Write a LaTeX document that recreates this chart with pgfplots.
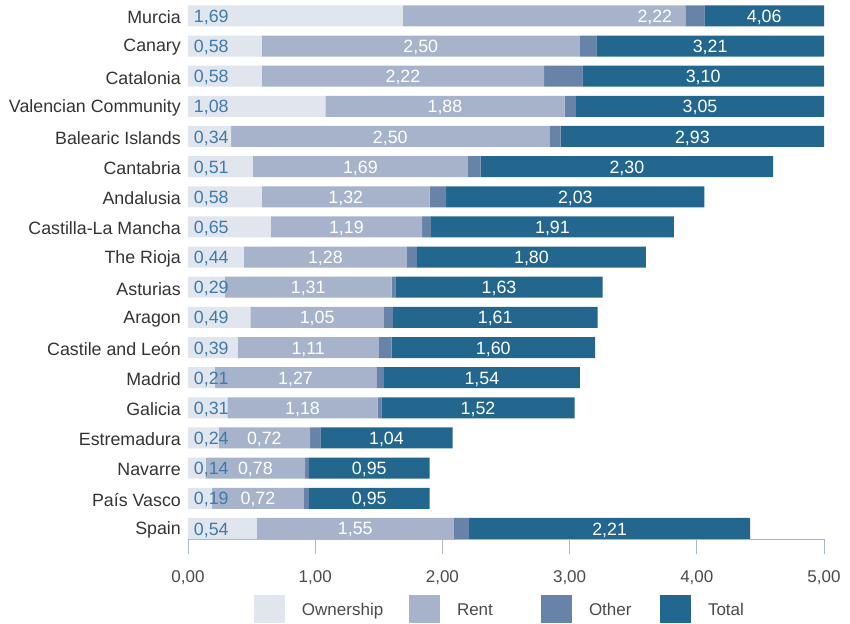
\documentclass[border=0pt]{standalone}
\usepackage{fontspec}
\setmainfont{Liberation Sans}
\usepackage{pgfplots}
\usepackage{pgfplotstable}
\pgfplotsset{compat=1.18}
\definecolor{cOwn}{HTML}{E1E6EE}
\definecolor{cRent}{HTML}{A6B3CB}
\definecolor{cOther}{HTML}{6783A7}
\definecolor{cTotal}{HTML}{23678F}
\definecolor{cLab}{HTML}{3E7AAA}
\definecolor{cAxis}{HTML}{A9B8CE}
\definecolor{cText}{HTML}{333333}
\definecolor{cTick}{HTML}{4A4A4A}
\newcommand\cf{\fontsize{17}{20}\selectfont}
\newcommand\cfy{\fontsize{17.8}{20}\selectfont}
\newcommand\cfv{\fontsize{17.8}{20}\selectfont}

% y: Spain = 0 ... Murcia = 17
\pgfplotstableread{
y  own  rent other total rshift
17 1.69 2.22 0.15 4.06 0.87
16 0.58 2.50 0.13 3.21 0
15 0.58 2.22 0.30 3.10 0
14 1.08 1.88 0.09 3.05 0
13 0.34 2.50 0.09 2.93 0
12 0.51 1.69 0.10 2.30 0
11 0.58 1.32 0.13 2.03 0
10 0.65 1.19 0.07 1.91 0
9  0.44 1.28 0.08 1.80 0
8  0.29 1.31 0.03 1.63 0
7  0.49 1.05 0.07 1.61 0
6  0.39 1.11 0.10 1.60 0
5  0.21 1.27 0.06 1.54 0
4  0.31 1.18 0.03 1.52 0
3  0.24 0.72 0.08 1.04 0
2  0.14 0.78 0.03 0.95 0
1  0.19 0.72 0.04 0.95 0
0  0.54 1.55 0.12 2.21 0
}\data

\pgfplotsset{
  base/.style={
    width=636pt, height=536.7pt, scale only axis,
    xmin=0, xmax=5, ymin=-0.35, ymax=17.45,
    /pgf/number format/assume math mode=true,
  },
  legsq/.style={legend image code/.code={\fill[##1,draw=none] (0pt,-13pt) rectangle (31pt,15pt);}},
  vlab/.style={draw=none, mark=none, point meta=explicit,
    nodes near coords={\pgfmathprintnumber[fixed,fixed zerofill,precision=2,use comma]{\pgfplotspointmeta}},
    every node near coord/.append style={anchor=#1, inner sep=0pt, font=\cfv, yshift=-1.5pt}},
}

\begin{document}
\begin{tikzpicture}
\begin{axis}[base,
  xbar stacked, bar width=21pt,
  axis x line*=bottom, axis y line*=left,
  y axis line style={draw=none},
  x axis line style={cAxis, line width=0.8pt},
  xtick={0,1,2,3,4,5}, xtick align=outside, major tick length=15pt,
  xtick style={cAxis, line width=0.8pt},
  ytick={0,...,17}, ytick style={draw=none},
  yticklabels={Spain, País Vasco, Navarre, Estremadura, Galicia, Madrid, Castile and León, Aragon, Asturias, The Rioja, Castilla-La Mancha, Andalusia, Cantabria, Balearic Islands, Valencian Community, Catalonia, Canary, Murcia},
  yticklabel style={font=\cfy, text=cText, inner xsep=0pt, xshift=-7pt, yshift=-1.5pt},
  xticklabel={\pgfmathprintnumber[fixed,fixed zerofill,precision=2,use comma]{\tick}},
  xticklabel style={font=\cf, text=cTick, yshift=-13pt},
  legend columns=4,
  legend style={at={(0,0)}, anchor=north west, xshift=66pt, yshift=-56pt,
    draw=none, fill=none, inner sep=0pt, outer sep=0pt,
    font=\cf, text=cTick,
    nodes={inner sep=0pt},
    /tikz/every even column/.append style={column sep=0pt},
    /tikz/every odd column/.append style={column sep=0pt}},
]
\addplot[fill=cOwn, draw=none, legsq] table[x=own, y=y]{\data};
\addlegendentry{\hspace{17pt}\makebox[107pt][l]{Ownership}}
\addplot[fill=cRent, draw=none, legsq] table[x=rent, y=y]{\data};
\addlegendentry{\hspace{17pt}\makebox[84pt][l]{Rent}}
\addplot[fill=cOther, draw=none, legsq] table[x=other, y=y]{\data};
\addlegendentry{\hspace{17pt}\makebox[71pt][l]{Other}}
\addplot[fill=cTotal, draw=none, legsq] table[x=total, y=y]{\data};
\addlegendentry{\hspace{17pt}\makebox[40pt][l]{Total}}
\end{axis}

\begin{axis}[base, hide axis]
\addplot[vlab=west, every node near coord/.append style={text=cLab}]
  table[x expr=0.045, y=y, meta=own]{\data};
\addplot[vlab=center, every node near coord/.append style={text=white}]
  table[x expr={\thisrow{own}+\thisrow{rent}/2+\thisrow{rshift}}, y=y, meta=rent]{\data};
\addplot[vlab=center, every node near coord/.append style={text=white}]
  table[x expr={(\thisrow{total}+min(5,2*\thisrow{total}))/2}, y=y, meta=total]{\data};
\end{axis}
\pgfresetboundingbox
\path[use as bounding box] ([shift={(-188pt,-84pt)}]current axis.south west) rectangle ++(850pt,623pt);
\end{tikzpicture}
\end{document}
